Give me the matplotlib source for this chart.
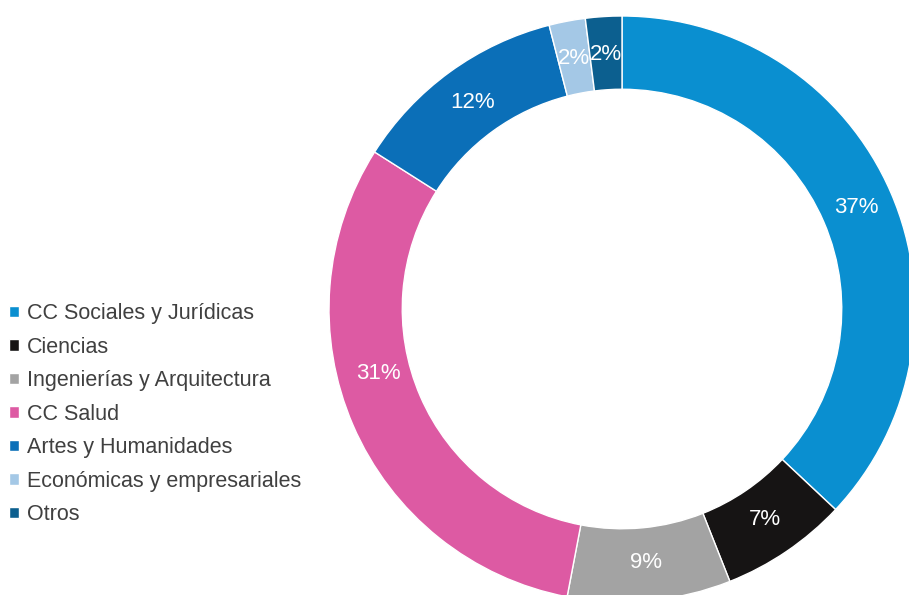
# Distribución por rama de conocimiento (gráfico de anillo)

import matplotlib.pyplot as plt
import numpy as np

# Datos
categorias = ["CC Sociales y Jurídicas", "Ciencias", "Ingenierías y Arquitectura",
              "CC Salud", "Artes y Humanidades", "Económicas y empresariales", "Otros"]
porcentajes = [37, 7, 9, 31, 12, 2, 2]
colores = ["#0a8fd0", "#161414", "#a3a3a3", "#dd5aa3", "#0b6fb8", "#a4c8e6", "#0c5f8f"]

plt.rcParams['font.family'] = ['Liberation Sans', 'DejaVu Sans']

fig = plt.figure(figsize=(9.09, 5.95), dpi=100)
ax = fig.add_axes([329 / 909, -7 / 595, 586 / 909, 586 / 595])

# Anillo
wedges, textos, autotextos = ax.pie(
    porcentajes, colors=colores, startangle=90, counterclock=False,
    autopct="%d%%", pctdistance=0.87,
    wedgeprops=dict(width=0.25, edgecolor="white", linewidth=1),
    textprops=dict(color="white", fontsize=16))
ax.set_aspect("equal")
ax.set_xlim(-1, 1)
ax.set_ylim(-1, 1)

# La etiqueta de CC Salud va un poco más arriba, como en el original
w = wedges[3]
ang = np.deg2rad((w.theta1 + w.theta2) / 2 - 8.5)
autotextos[3].set_position((0.86 * np.cos(ang), 0.86 * np.sin(ang)))

# Leyenda a la izquierda
fig.legend(wedges, categorias, loc="center left", bbox_to_anchor=(9 / 909, 0.304),
           frameon=False, fontsize=15.5, handlelength=0.45, handleheight=0.45,
           handletextpad=0.4, labelspacing=0.58, borderpad=0, borderaxespad=0,
           labelcolor="#404040")

plt.savefig("out.png", dpi=100)
